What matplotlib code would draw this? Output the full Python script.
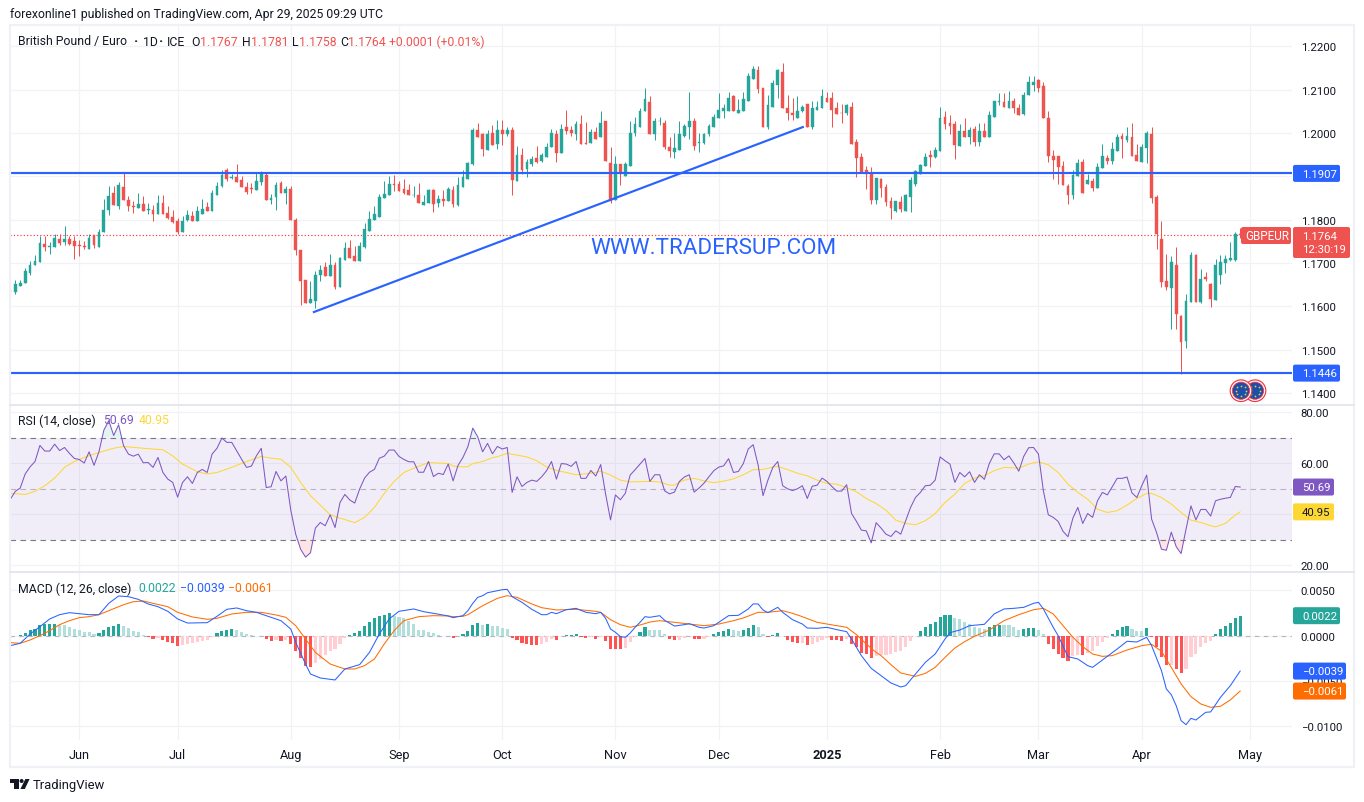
import numpy as np
import matplotlib
matplotlib.use('Agg')
import matplotlib.pyplot as plt
from matplotlib.patches import Circle, FancyBboxPatch, Polygon, Rectangle

plt.rcParams['font.family'] = ['Roboto', 'DejaVu Sans']

# daily candles, Gbp/Eur
opens = [1.1636,1.1634,1.1647,1.1655,1.1678,1.1696,1.1703,1.1743,1.1738,1.1738,
 1.1755,1.1748,1.1755,1.1752,1.1741,1.1739,1.1733,1.1764,1.1738,1.1772,
 1.1822,1.1861,1.1832,1.1875,1.1845,1.1832,1.1827,1.1836,1.1823,1.1823,
 1.1813,1.1838,1.1815,1.1806,1.1797,1.1772,1.1799,1.1808,1.1798,1.1813,
 1.1829,1.1820,1.1857,1.1878,1.1915,1.1897,1.1898,1.1892,1.1875,1.1873,
 1.1868,1.1887,1.1903,1.1845,1.1852,1.1885,1.1862,1.1871,1.1799,1.1730,
 1.1661,1.1608,1.1612,1.1672,1.1691,1.1670,1.1695,1.1645,1.1707,1.1735,
 1.1716,1.1705,1.1736,1.1774,1.1799,1.1806,1.1850,1.1857,1.1882,1.1882,
 1.1871,1.1868,1.1857,1.1857,1.1834,1.1839,1.1868,1.1838,1.1848,1.1844,
 1.1869,1.1834,1.1876,1.1895,1.1929,1.2008,1.1997,1.1962,1.2001,1.1976,
 1.2008,1.1997,1.2008,1.1890,1.1950,1.1918,1.1929,1.1943,1.1936,1.1946,
 1.1969,1.1999,1.1953,1.2013,1.2008,1.1999,1.2022,1.1978,1.1978,1.2003,
 1.1990,1.2027,1.1932,1.1846,1.1929,1.1902,1.1925,1.2001,1.2013,1.2052,
 1.2073,1.1997,1.2027,1.2024,1.1969,1.1957,1.1962,1.1994,1.2015,1.2027,
 1.1978,1.1978,1.1997,1.2015,1.2036,1.2052,1.2052,1.2085,1.2047,1.2050,
 1.2075,1.2126,1.2145,1.2105,1.2013,1.2061,1.2112,1.2142,1.2057,1.2047,
 1.2036,1.2052,1.2068,1.2015,1.2054,1.2057,1.2082,1.2080,1.2057,1.2047,
 1.2047,1.2061,1.1980,1.1946,1.1915,1.1906,1.1846,1.1895,1.1876,1.1844,
 1.1820,1.1841,1.1820,1.1853,1.1883,1.1906,1.1925,1.1950,1.1945,1.1959,
 1.2038,1.2024,1.2022,1.1971,1.2006,1.1992,1.2010,1.1980,1.2006,1.1990,
 1.2038,1.2071,1.2071,1.2059,1.2075,1.2057,1.2045,1.2087,1.2112,1.2122,
 1.2108,1.2036,1.1948,1.1948,1.1925,1.1878,1.1858,1.1902,1.1934,1.1883,
 1.1890,1.1874,1.1920,1.1943,1.1936,1.1959,1.1994,1.1985,1.1990,1.1950,
 1.1934,1.1966,1.1997,1.1853,1.1756,1.1658,1.1642,1.1695,1.1577,1.1519,
 1.1610,1.1719,1.1610,1.1667,1.1651,1.1614,1.1672,1.1700,1.1707,1.1707,1.1767]
highs = [1.1646,1.1661,1.1661,1.1688,1.1705,1.1718,1.1762,1.1763,1.1749,1.1768,
 1.1767,1.1785,1.1763,1.1763,1.1754,1.1752,1.1766,1.1765,1.1778,1.1848,
 1.1878,1.1878,1.1888,1.1909,1.1855,1.1844,1.1862,1.1855,1.1838,1.1835,
 1.1858,1.1858,1.1831,1.1823,1.1805,1.1809,1.1822,1.1821,1.1832,1.1848,
 1.1840,1.1868,1.1888,1.1915,1.1919,1.1905,1.1928,1.1902,1.1888,1.1886,
 1.1909,1.1912,1.1908,1.1859,1.1887,1.1889,1.1878,1.1878,1.1804,1.1730,
 1.1661,1.1658,1.1682,1.1695,1.1702,1.1721,1.1702,1.1715,1.1748,1.1753,
 1.1739,1.1749,1.1792,1.1820,1.1832,1.1859,1.1889,1.1901,1.1903,1.1889,
 1.1894,1.1882,1.1878,1.1886,1.1858,1.1870,1.1871,1.1858,1.1868,1.1876,
 1.1879,1.1898,1.1915,1.1934,1.2012,1.2024,1.2001,1.2008,1.2018,1.2030,
 1.2031,1.2015,1.2015,1.1971,1.1966,1.1941,1.1948,1.1971,1.1955,1.1978,
 1.2010,1.2008,1.2022,1.2054,1.2017,1.2027,1.2043,1.2026,1.2010,1.2014,
 1.2050,1.2029,1.1969,1.1948,1.1929,1.1934,1.2027,1.2038,1.2059,1.2105,
 1.2085,1.2036,1.2038,1.2031,1.1990,1.2001,1.2029,1.2020,1.2096,1.2034,
 1.2001,1.2001,1.2022,1.2045,1.2092,1.2068,1.2094,1.2089,1.2078,1.2094,
 1.2138,1.2156,1.2154,1.2105,1.2087,1.2122,1.2149,1.2161,1.2087,1.2080,
 1.2085,1.2064,1.2068,1.2075,1.2075,1.2101,1.2094,1.2096,1.2071,1.2068,
 1.2068,1.2071,1.1987,1.1955,1.1925,1.1922,1.1897,1.1897,1.1883,1.1853,
 1.1844,1.1855,1.1860,1.1899,1.1915,1.1929,1.1955,1.1962,1.1969,1.2061,
 1.2050,1.2043,1.2027,1.2022,1.2034,1.2015,1.2017,1.2024,1.2024,1.2052,
 1.2075,1.2092,1.2092,1.2098,1.2082,1.2068,1.2096,1.2133,1.2133,1.2124,
 1.2119,1.2050,1.1962,1.1948,1.1936,1.1883,1.1915,1.1941,1.1941,1.1906,
 1.1897,1.1932,1.1976,1.1950,1.1980,1.1997,1.2001,1.2015,1.2024,1.1976,
 1.1976,1.2006,1.2013,1.1858,1.1797,1.1721,1.1716,1.1737,1.1580,1.1628,
 1.1726,1.1721,1.1686,1.1679,1.1653,1.1709,1.1719,1.1719,1.1749,1.1772,1.1781]
lows = [1.1611,1.1628,1.1647,1.1655,1.1672,1.1696,1.1703,1.1728,1.1721,1.1738,
 1.1742,1.1742,1.1742,1.1709,1.1716,1.1732,1.1732,1.1735,1.1738,1.1772,
 1.1811,1.1834,1.1825,1.1845,1.1821,1.1816,1.1827,1.1820,1.1813,1.1798,
 1.1813,1.1813,1.1802,1.1792,1.1767,1.1772,1.1797,1.1797,1.1797,1.1813,
 1.1820,1.1820,1.1857,1.1875,1.1890,1.1893,1.1887,1.1875,1.1859,1.1862,
 1.1868,1.1880,1.1845,1.1836,1.1822,1.1862,1.1836,1.1799,1.1718,1.1603,
 1.1608,1.1608,1.1596,1.1658,1.1670,1.1670,1.1640,1.1645,1.1707,1.1712,
 1.1705,1.1705,1.1735,1.1774,1.1799,1.1806,1.1850,1.1857,1.1866,1.1866,
 1.1859,1.1857,1.1853,1.1838,1.1834,1.1839,1.1818,1.1830,1.1832,1.1844,
 1.1830,1.1832,1.1876,1.1895,1.1927,1.1992,1.1948,1.1962,1.1973,1.1964,
 1.1973,1.1994,1.1858,1.1890,1.1906,1.1899,1.1925,1.1932,1.1934,1.1946,
 1.1969,1.1934,1.1953,1.1997,1.1994,1.1983,1.1976,1.1976,1.1978,1.1987,
 1.1990,1.1936,1.1839,1.1846,1.1881,1.1902,1.1925,1.1994,1.2013,1.2050,
 1.1997,1.1985,1.2018,1.1964,1.1946,1.1943,1.1962,1.1992,1.1987,1.1962,
 1.1957,1.1976,1.1994,1.2015,1.2036,1.2036,1.2052,1.2050,1.2047,1.2050,
 1.2075,1.2126,1.2092,1.2013,1.2010,1.2061,1.2082,1.2059,1.2031,1.2031,
 1.2036,1.2049,1.2015,1.2010,1.2054,1.2057,1.2073,1.2013,1.2045,1.2024,
 1.2043,1.1976,1.1899,1.1908,1.1871,1.1837,1.1837,1.1853,1.1832,1.1802,
 1.1818,1.1818,1.1820,1.1818,1.1878,1.1906,1.1925,1.1922,1.1943,1.1959,
 1.2010,1.1999,1.1941,1.1971,1.1992,1.1976,1.1971,1.1971,1.1992,1.1990,
 1.2038,1.2066,1.2061,1.2059,1.2047,1.2043,1.2043,1.2087,1.2098,1.2096,
 1.2036,1.1934,1.1895,1.1883,1.1881,1.1837,1.1848,1.1902,1.1862,1.1883,
 1.1867,1.1874,1.1920,1.1929,1.1929,1.1959,1.1943,1.1980,1.1948,1.1936,
 1.1934,1.1932,1.1839,1.1732,1.1644,1.1637,1.1547,1.1547,1.1445,1.1503,
 1.1610,1.1610,1.1607,1.1658,1.1598,1.1614,1.1651,1.1677,1.1705,1.1705,1.1758]
closes = [1.1635,1.1652,1.1655,1.1682,1.1695,1.1705,1.1746,1.1737,1.1740,1.1758,
 1.1746,1.1755,1.1745,1.1740,1.1739,1.1738,1.1758,1.1742,1.1772,1.1822,
 1.1855,1.1834,1.1880,1.1845,1.1832,1.1830,1.1836,1.1820,1.1825,1.1813,
 1.1838,1.1813,1.1804,1.1795,1.1772,1.1798,1.1811,1.1797,1.1820,1.1826,
 1.1820,1.1862,1.1878,1.1903,1.1894,1.1898,1.1887,1.1875,1.1864,1.1870,
 1.1889,1.1909,1.1845,1.1850,1.1880,1.1862,1.1871,1.1799,1.1730,1.1658,
 1.1608,1.1617,1.1672,1.1685,1.1670,1.1695,1.1645,1.1712,1.1735,1.1712,
 1.1705,1.1739,1.1778,1.1802,1.1813,1.1852,1.1859,1.1882,1.1881,1.1866,
 1.1862,1.1857,1.1858,1.1838,1.1841,1.1868,1.1837,1.1848,1.1844,1.1871,
 1.1837,1.1881,1.1899,1.1932,1.2008,1.1992,1.1963,1.1999,1.1973,1.2008,
 1.1999,1.2008,1.1892,1.1950,1.1915,1.1934,1.1941,1.1934,1.1950,1.1969,
 1.2001,1.1953,1.2010,1.2006,1.2001,1.2020,1.1976,1.1976,1.2003,1.1987,
 1.2024,1.1936,1.1844,1.1929,1.1906,1.1929,1.2001,1.2020,1.2050,1.2078,
 1.1997,1.2029,1.2029,1.1969,1.1959,1.1966,1.1999,1.2017,1.2027,1.1971,
 1.1980,1.1999,1.2017,1.2038,1.2054,1.2057,1.2082,1.2050,1.2054,1.2078,
 1.2131,1.2147,1.2103,1.2013,1.2064,1.2115,1.2145,1.2059,1.2047,1.2043,
 1.2050,1.2061,1.2015,1.2057,1.2061,1.2085,1.2073,1.2054,1.2045,1.2046,
 1.2064,1.1976,1.1943,1.1908,1.1906,1.1846,1.1897,1.1874,1.1841,1.1827,
 1.1844,1.1825,1.1858,1.1892,1.1913,1.1927,1.1946,1.1946,1.1962,1.2036,
 1.2022,1.2017,1.1973,1.2006,1.1992,1.2008,1.1980,1.2006,1.1992,1.2043,
 1.2075,1.2075,1.2061,1.2075,1.2057,1.2043,1.2089,1.2117,1.2119,1.2105,
 1.2036,1.1948,1.1939,1.1922,1.1881,1.1858,1.1904,1.1932,1.1862,1.1892,
 1.1874,1.1922,1.1948,1.1936,1.1964,1.1990,1.1987,1.1994,1.1948,1.1936,
 1.1969,1.2001,1.1851,1.1767,1.1656,1.1644,1.1702,1.1582,1.1517,1.1612,
 1.1719,1.1611,1.1664,1.1664,1.1616,1.1695,1.1702,1.1709,1.1712,1.1767,1.1764]

rsi = [45.9,49.0,50.3,55.8,58.6,60.7,67.0,64.8,64.8,67.5,65.0,66.2,63.9,61.9,61.5,60.1,64.5,59.2,64.5,73.0,
 76.7,70.9,75.1,66.9,63.6,62.8,63.6,60.2,60.3,58.4,62.3,56.4,53.8,52.5,46.7,52.5,54.7,52.1,56.4,57.6,
 56.4,63.6,65.9,69.9,68.2,68.2,64.9,61.6,58.4,58.9,62.9,65.9,50.5,50.8,56.8,53.1,55.0,41.6,32.2,26.3,
 23.2,24.9,34.6,36.8,35.5,39.8,34.8,44.6,47.8,45.6,44.4,49.9,54.2,56.5,57.6,62.0,62.8,65.2,65.2,62.7,
 61.5,60.6,60.6,56.5,56.5,60.7,54.8,56.1,55.6,59.7,53.1,59.2,62.3,66.5,73.8,70.4,64.5,67.8,63.7,66.6,
 65.6,66.2,48.6,54.7,50.9,52.5,53.4,52.9,54.7,57.1,60.7,53.8,59.9,59.7,58.8,60.7,54.1,54.1,57.2,55.0,
 59.5,47.9,37.8,47.6,45.7,48.2,55.4,57.5,59.7,61.9,52.9,55.5,55.5,49.2,48.0,48.7,52.9,54.6,55.5,48.7,
 50.3,52.2,54.7,57.1,58.5,59.0,61.8,56.4,56.8,59.9,65.6,67.3,59.4,47.3,53.4,58.4,60.7,51.2,50.0,49.3,
 50.0,51.2,46.2,51.0,51.4,54.2,52.9,50.9,49.1,49.1,51.6,40.3,37.2,33.8,33.5,28.8,36.7,34.6,32.2,31.3,
 33.5,32.2,37.5,42.7,46.6,48.6,51.2,51.4,53.4,62.5,61.0,59.7,52.5,56.4,54.7,56.7,52.5,55.5,53.7,59.9,
 63.7,63.7,61.4,62.9,60.1,56.9,62.7,66.1,66.2,63.6,49.2,39.8,38.8,37.2,33.3,31.2,38.5,42.7,36.4,40.3,
 38.8,45.3,48.6,47.6,50.8,54.1,54.1,54.6,48.4,46.6,51.2,55.4,38.1,32.9,26.3,25.9,33.0,27.3,24.6,34.2,
 43.3,37.8,41.9,41.9,39.3,45.3,45.9,46.3,46.6,50.9,50.69]

# RSI moving average, read every few bars
rsi_ma_idx = [0,3,5,7,9,11,13,15,17,19,21,23,27,31,33,35,38,40,42,45,48,51,53,55,57,59,61,63,65,67,70,72,74,76,78,80,82,85,89,
 90,92,93,94,96,98,99,101,103,105,107,109,111,113,115,117,119,120,122,124,126,130,132,134,135,137,139,141,143,145,147,149,151,153,155,156,158,160,162,164,166,168,170,172,174,176,178,
 180,182,184,186,188,190,192,194,196,198,200,202,205,207,209,211,213,215,217,219,221,223,225,227,229,231,232,234,236,238,240,242,244,245,247,249,250]
rsi_ma = [48.2,47.8,49.0,51.2,54.2,58.4,60.7,62.3,63.6,64.8,65.9,66.6,65.9,65.3,62.9,59.7,56.7,55.8,56.4,58.4,60.7,62.7,62.0,61.6,58.4,52.5,47.3,43.6,39.8,38.5,36.7,38.8,42.7,48.2,52.9,56.4,58.1,60.3,59.9,
 58.9,58.6,58.7,59.9,60.7,62.2,62.6,63.9,63.2,62.5,61.0,58.6,57.2,56.4,55.5,55.9,56.4,56.9,55.4,53.4,52.7,52.9,52.7,51.4,51.5,53.4,54.1,53.1,52.4,53.0,53.9,55.5,57.5,57.6,58.5,58.8,57.5,56.1,55.1,53.4,52.1,51.8,50.5,48.8,46.2,44.2,41.6,
 37.7,36.4,35.9,37.5,40.3,44.6,47.9,52.1,54.2,55.1,57.1,58.4,58.1,59.7,60.6,59.4,56.4,51.8,48.6,45.9,42.0,40.7,41.4,43.6,46.2,48.2,48.2,46.6,44.0,40.7,37.7,36.8,35.5,35.1,36.4,39.7,40.95]

# MACD histogram, units of 0.0001
macd_hist = [-2.9,-0.4,0.7,2.9,6.6,7.3,12.1,12.7,12.8,12.9,12.1,11.4,9.2,7.7,6.2,4.4,4.0,2.2,3.3,6.2,
 9.2,10.3,12.8,10.6,8.1,4.8,3.7,0.7,-1.1,-3.6,-3.0,-4.8,-7.0,-8.1,-11.4,-9.9,-9.5,-8.4,-7.0,-6.2,
 -4.8,-1.8,2.9,4.8,6.2,7.3,5.9,3.7,1.8,0.4,-0.4,-0.5,-3.7,-5.5,-4.8,-5.9,-4.4,-9.2,-17.2,-25.0,
 -33.0,-34.5,-30.1,-25.7,-21.3,-17.2,-14.7,-9.2,-2.6,0.7,2.9,5.5,10.3,15.0,19.8,22.0,23.1,24.6,22.0,20.9,
 19.5,16.1,13.2,6.6,6.2,3.7,2.6,0.7,-0.4,-0.2,-2.6,-0.1,1.5,5.1,11.4,13.9,11.7,12.8,10.6,10.5,
 8.1,7.0,-2.6,-4.4,-8.1,-9.2,-9.9,-10.1,-9.2,-7.0,-3.3,-4.8,-0.7,0.4,0.5,1.5,-1.1,-2.2,-2.0,-3.3,
 -1.5,-5.5,-14.3,-14.4,-14.5,-13.6,-7.0,-1.5,3.7,9.2,6.2,6.1,6.0,1.5,-3.7,-4.4,-4.3,-2.2,-0.4,-3.7,
 -3.8,-3.3,-1.5,1.5,3.7,4.8,7.0,6.2,4.8,6.2,8.1,11.4,9.2,1.5,-1.1,1.1,3.3,-0.4,-4.4,-6.6,
 -7.7,-7.6,-9.9,-9.2,-7.0,-4.4,-2.6,-4.8,-4.9,-5.5,-3.7,-8.8,-12.5,-19.1,-20.2,-24.2,-22.0,-21.8,-21.0,-20.2,
 -18.3,-16.5,-12.1,-6.2,-0.7,5.1,9.9,12.8,14.7,20.2,22.7,22.8,19.1,18.0,15.0,13.2,9.5,8.4,7.7,9.5,
 11.7,12.1,11.7,11.4,9.2,6.2,7.3,8.1,8.4,6.6,1.5,-9.2,-14.7,-20.2,-24.2,-27.9,-22.7,-21.3,-21.4,-19.1,
 -16.5,-11.0,-7.0,-2.6,1.5,6.2,9.5,10.3,7.7,5.6,5.5,8.1,-1.8,-12.1,-23.9,-32.3,-31.9,-36.7,-41.1,-36.7,
 -23.9,-20.2,-12.8,-7.7,-5.5,1.5,7.0,11.0,13.6,19.1,22.0]

macd_idx = [0,2,4,6,8,10,12,14,16,18,19,20,22,24,26,28,30,32,34,36,40,42,44,46,48,50,53,55,57,58,60,61,63,65,66,68,71,73,75,77,79,82,84,86,89,
 90,92,93,94,95,96,97,99,100,101,102,104,106,108,109,110,111,113,115,117,119,120,121,122,123,124,125,126,127,128,129,130,132,133,135,137,138,140,141,143,145,146,148,150,151,152,153,154,156,157,159,161,162,164,166,168,170,171,173,175,177,179,
 180,181,182,184,186,188,190,191,193,195,198,200,202,204,206,208,209,210,212,213,215,217,219,220,222,225,227,229,231,232,234,235,236,237,238,239,240,241,243,244,246,248,250]
macd_line = [-11.0,-8.4,1.8,9.9,18.4,23.1,25.3,24.2,23.1,23.1,29.4,35.6,43.7,42.9,40.0,34.9,31.9,26.8,18.4,13.9,14.3,21.3,29.0,30.5,27.5,25.7,20.2,16.5,7.3,-7.3,-31.2,-42.2,-46.6,-48.1,-48.8,-36.7,-31.9,-18.4,1.8,18.4,26.8,29.4,26.4,24.6,21.7,
 19.8,22.0,27.5,35.6,42.2,44.0,47.3,49.5,50.6,51.0,42.9,36.7,29.0,23.1,23.1,25.7,24.2,28.6,30.1,25.7,24.2,25.7,19.1,7.3,3.7,-1.1,-1.8,2.9,9.2,14.7,20.9,20.2,22.0,16.9,10.6,12.1,13.2,9.2,8.4,11.0,18.4,22.0,22.4,29.4,34.9,34.9,28.3,25.3,31.2,25.7,17.6,12.8,8.4,8.1,9.2,6.6,4.4,-3.7,-22.0,-36.0,-44.0,-52.1,
 -54.3,-56.5,-55.1,-42.2,-29.4,-20.2,-3.7,3.3,6.2,11.0,12.5,23.9,29.4,30.1,31.2,35.6,36.7,29.4,9.2,0.0,-23.1,-25.7,-33.0,-34.9,-26.8,-14.7,-6.2,-7.0,-1.8,-11.0,-38.5,-58.7,-65.0,-77.1,-93.6,-98.0,-91.0,-92.9,-84.4,-84.0,-67.9,-55.1,-39.0]

signal_idx = [0,2,4,6,8,10,12,14,16,18,20,23,25,27,29,32,34,37,40,42,45,48,51,54,56,58,60,62,65,68,70,72,74,76,78,80,83,86,89,
 90,92,93,96,99,101,103,106,108,111,115,119,120,122,124,126,128,130,132,135,138,141,144,147,149,152,154,157,159,161,164,166,168,170,172,174,176,177,179,
 181,184,186,188,190,192,194,196,199,202,205,208,210,212,214,216,218,220,222,224,227,230,232,234,236,238,240,242,244,246,248,250]
signal_line = [-7.7,-8.4,-4.8,0.0,5.5,12.1,16.5,19.8,20.9,23.1,27.5,34.1,37.4,38.2,35.6,31.9,25.7,20.6,18.0,19.1,23.9,25.7,25.7,22.8,20.2,11.0,-3.7,-18.4,-31.2,-36.7,-36.7,-33.0,-25.7,-9.2,5.5,16.5,20.9,22.0,21.7,
 20.9,21.3,23.1,33.0,41.1,44.0,42.2,34.9,30.8,28.3,29.0,26.8,25.7,17.6,12.1,9.2,11.7,15.0,16.5,14.7,12.8,11.0,12.8,16.5,19.5,25.7,25.7,27.5,24.6,20.9,14.7,12.8,11.0,9.2,1.1,-9.2,-18.4,-22.0,-31.9,
 -41.1,-44.8,-41.5,-34.9,-23.9,-13.6,-6.6,-0.7,6.2,16.5,23.1,28.6,30.1,23.9,11.0,-1.8,-12.1,-20.2,-22.8,-22.0,-15.8,-11.0,-9.5,-17.2,-34.9,-53.2,-67.2,-75.2,-78.9,-77.8,-70.8,-61.0]

month_idx = [14,34,57,79,100,123,144,166,189,209,230,252]
month_labels = ['Jun','Jul','Aug','Sep','Oct','Nov','Dec','2025','Feb','Mar','Apr','May']
price_ticks = [1.14,1.15,1.16,1.17,1.18,1.19,1.20,1.21,1.22]
support = 1.1446
resistance = 1.1907
last_price = 1.1764
trend_idx = [61.7,161.1]
trend_price = [1.1587,1.2014]

UP = '#26a69a'
DOWN = '#ef5350'
BLUE = '#2962ff'
GRID = '#f0f2f6'
TEXT = '#131722'
W, H = 1364, 803

fig = plt.figure(figsize=(W/100, H/100), dpi=100, facecolor='white')

def pane(top, bottom):
    a = fig.add_axes([10/W, 1-bottom/H, (1292-10)/W, (bottom-top)/H])
    a.set_xlim((10-10.4)/4.919, (1292-10.4)/4.919)
    for s in a.spines.values():
        s.set_visible(False)
    a.set_xticks(month_idx)
    a.yaxis.tick_right()
    a.tick_params(axis='both', length=0, labelsize=8.2, labelcolor=TEXT, pad=6.2)
    a.tick_params(axis='x', labelbottom=False)
    a.grid(True, color=GRID, lw=0.9)
    a.set_axisbelow(True)
    return a

# price pane
ax = pane(27, 406)
ax.set_ylim(1.13724, 1.22473)
# 1.1900 sits under the 1.1907 tag, as in the screenshot
ax.set_yticks(price_ticks, ['' if p == 1.19 else '%.4f' % p for p in price_ticks])

o, h, l, c = map(np.array, (opens, highs, lows, closes))
x = np.arange(len(o))
cols = [UP if cc >= oo else DOWN for oo, cc in zip(o, c)]
ax.vlines(x, l, h, colors=cols, lw=0.72, zorder=3)
ax.bar(x, np.abs(c-o), bottom=np.minimum(o, c), width=0.56, color=cols, edgecolor=cols, lw=0.3, zorder=4)

ax.axhline(last_price, color='#f23645', lw=0.85, ls=(0, (1, 1.8)), zorder=2)
ax.axhline(resistance, color=BLUE, lw=1.55, zorder=5)
ax.axhline(support, color=BLUE, lw=1.55, zorder=5)
ax.plot(trend_idx, trend_price, color=BLUE, lw=1.55, zorder=5)
ax.text(0.4524, 1.1737, 'WWW.TRADERSUP.COM', transform=ax.get_yaxis_transform(), color=BLUE,
        fontsize=16.1, va='center', ha='left', zorder=6)

# rsi pane
ax2 = pane(407, 572)
ax2.set_ylim(17.76, 82.47)
ax2.set_yticks([20,40,60,80], ['20.00','','60.00','80.00'])
ax2.axhspan(30, 70, color='#7e57c2', alpha=0.1, lw=0, zorder=1)
for lev, col in ((70,'#787b86'), (30,'#787b86'), (50,'#b8b2c8')):
    ax2.axhline(lev, color=col, lw=0.8, ls=(0, (5, 4)), zorder=2)
rsi_arr = np.array(rsi)
ax2.fill_between(x, 30, rsi_arr, where=rsi_arr < 30, interpolate=True, color=DOWN, alpha=0.15, lw=0, zorder=2)
ax2.fill_between(x, 70, rsi_arr, where=rsi_arr > 70, interpolate=True, color=UP, alpha=0.12, lw=0, zorder=2)
ax2.plot(rsi_ma_idx, rsi_ma, color='#fdd835', lw=0.75, zorder=3)
ax2.plot(x, rsi, color='#7e57c2', lw=0.75, zorder=4)

# macd pane
ax3 = pane(574, 741)
ax3.set_ylim(-0.01149, 0.0069)
macd_ticks = [-0.01,-0.005,0,0.005]
ax3.set_yticks(macd_ticks, ['\u22120.0100','\u22120.0050','0.0000','0.0050'])
ax3.axhline(0, color='#b2b5be', lw=0.8, ls=(0, (4, 4)), zorder=2)
hist = np.array(macd_hist)*1e-4
prev = np.r_[hist[0], hist[:-1]]
hcols = []
for v, p in zip(hist, prev):
    if v >= 0:
        hcols.append('#26a69a' if v > p else '#b2dfdb')
    else:
        hcols.append('#ff5252' if v < p else '#ffcdd2')
ax3.bar(x, hist, width=0.64, color=hcols, lw=0, zorder=3)
ax3.plot(signal_idx, np.array(signal_line)*1e-4, color='#ff6d00', lw=0.75, zorder=4)
ax3.plot(macd_idx, np.array(macd_line)*1e-4, color=BLUE, lw=0.75, zorder=5)

ax3.tick_params(axis='x', labelbottom=True, pad=6, labelsize=9.2)
ax3.set_xticklabels(month_labels)
for t in ax3.get_xticklabels():
    if t.get_text() == '2025':
        t.set_fontweight('bold')

# overlay in pixel coords, for the frame, legends, tags and logo
ov = fig.add_axes([0, 0, 1, 1], zorder=20)
ov.set_xlim(0, W)
ov.set_ylim(H, 0)
ov.axis('off')
ov.patch.set_alpha(0)

ov.add_patch(Rectangle((9.5, 26), 1344.5, 742, fc='none', ec='#eff1f6', lw=1.6))
for yy in (406.3, 572.6):
    ov.plot([10, 1354], [yy, yy], color='#e0e3eb', lw=1.2)

def tag(a, val, txt, bg, width, fg='white'):
    # box sits on the pane's own y scale
    yp = H - a.transData.transform((0, val))[1]
    ov.add_patch(FancyBboxPatch((1294, yp-7.5), width-2, 15, boxstyle='round,pad=1,rounding_size=2', fc=bg, ec='none'))
    ov.text(1302, yp+0.3, txt, fontsize=8.2, color=fg, va='center')

tag(ax, resistance, '1.1907', BLUE, 47)
tag(ax, support, '1.1446', BLUE, 47)
tag(ax2, 50.69, '50.69', '#7e57c2', 41)
tag(ax2, 40.95, '40.95', '#fdd835', 41, fg=TEXT)
tag(ax3, 0.0022, '0.0022', UP, 47)
tag(ax3, -0.0039, '\u22120.0039', BLUE, 53)
tag(ax3, -0.0061, '\u22120.0061', '#ff6d00', 53)

ov.text(10, 14.5, 'forexonline1 published on TradingView.com, Apr 29, 2025 09:29 UTC', fontsize=8.85, color=TEXT, va='center')

for xx, s, col in ((18,'British Pound / Euro',TEXT),(143,'1D',TEXT),(167,'ICE',TEXT),
                   (191,'O',TEXT),(200,'1.1767',DOWN),(242,'H',TEXT),(251,'1.1781',DOWN),(292,'L',TEXT),(299,'1.1758',DOWN),
                   (340,'C',TEXT),(348,'1.1764',DOWN),(389,'+0.0001 (+0.01%)',DOWN)):
    ov.text(xx, 42, s, fontsize=8.8, color=col, va='center')
# the separators in the legend are heavier than Roboto's middle dot
for xx in (136, 161):
    ov.text(xx, 42, '\u00b7', fontsize=10, fontweight='bold', color=TEXT, va='center', ha='center')

ov.text(18, 421, 'RSI (14, close)', fontsize=8.8, color=TEXT, va='center')
ov.text(103, 421, '50.69', fontsize=8.8, color='#7e57c2', va='center')
ov.text(139, 421, '40.95', fontsize=8.8, color='#fdd835', va='center')

ov.text(18, 589, 'MACD (12, 26, close)', fontsize=8.8, color=TEXT, va='center')
ov.text(138, 589, '0.0022', fontsize=8.8, color=UP, va='center')
ov.text(180, 589, '\u22120.0039', fontsize=8.8, color=BLUE, va='center')
ov.text(228, 589, '\u22120.0061', fontsize=8.8, color='#ff6d00', va='center')

# last price tags
ov.add_patch(FancyBboxPatch((1294, 229), 55, 29, boxstyle='round,pad=1,rounding_size=2', fc=DOWN, ec='none'))
ov.text(1302, 237, '1.1764', fontsize=8.2, color='white', va='center')
ov.text(1302, 250, '12:30:19', fontsize=8.2, color='white', va='center')
ov.add_patch(FancyBboxPatch((1242, 229), 48, 15, boxstyle='round,pad=1,rounding_size=2', fc=DOWN, ec='none'))
ov.text(1245, 236.5, 'GBPEUR', fontsize=8.4, color='white', va='center')

# currency badges
for cx in (1255, 1241):
    ov.add_patch(Circle((cx, 391.7), 11.4, fc='#f23645', ec='none'))
    ov.add_patch(Circle((cx, 391.7), 10.2, fc='white', ec='none'))
    ov.add_patch(Circle((cx, 391.7), 8.6, fc='#1b50a8', ec='#f23645', lw=0.6))
    ang = np.arange(0, 360, 45)
    ov.scatter(cx+5.2*np.cos(np.radians(ang)), 391.7+5.2*np.sin(np.radians(ang)), s=1.6, color='#f5c542', lw=0)

# tradingview logo
ov.add_patch(Polygon([(10,780),(18.6,780),(18.6,790),(14.2,790),(14.2,784),(10,784)], fc=TEXT, ec='none'))
ov.add_patch(Circle((21.6,782), 2, fc=TEXT, ec='none'))
ov.add_patch(Polygon([(25.4,780),(29.6,780),(24.8,790),(20.4,790)], fc=TEXT, ec='none'))
ov.text(33, 785.5, 'TradingView', fontsize=9.4, color=TEXT, va='center')

fig.savefig('out.png', dpi=100)
